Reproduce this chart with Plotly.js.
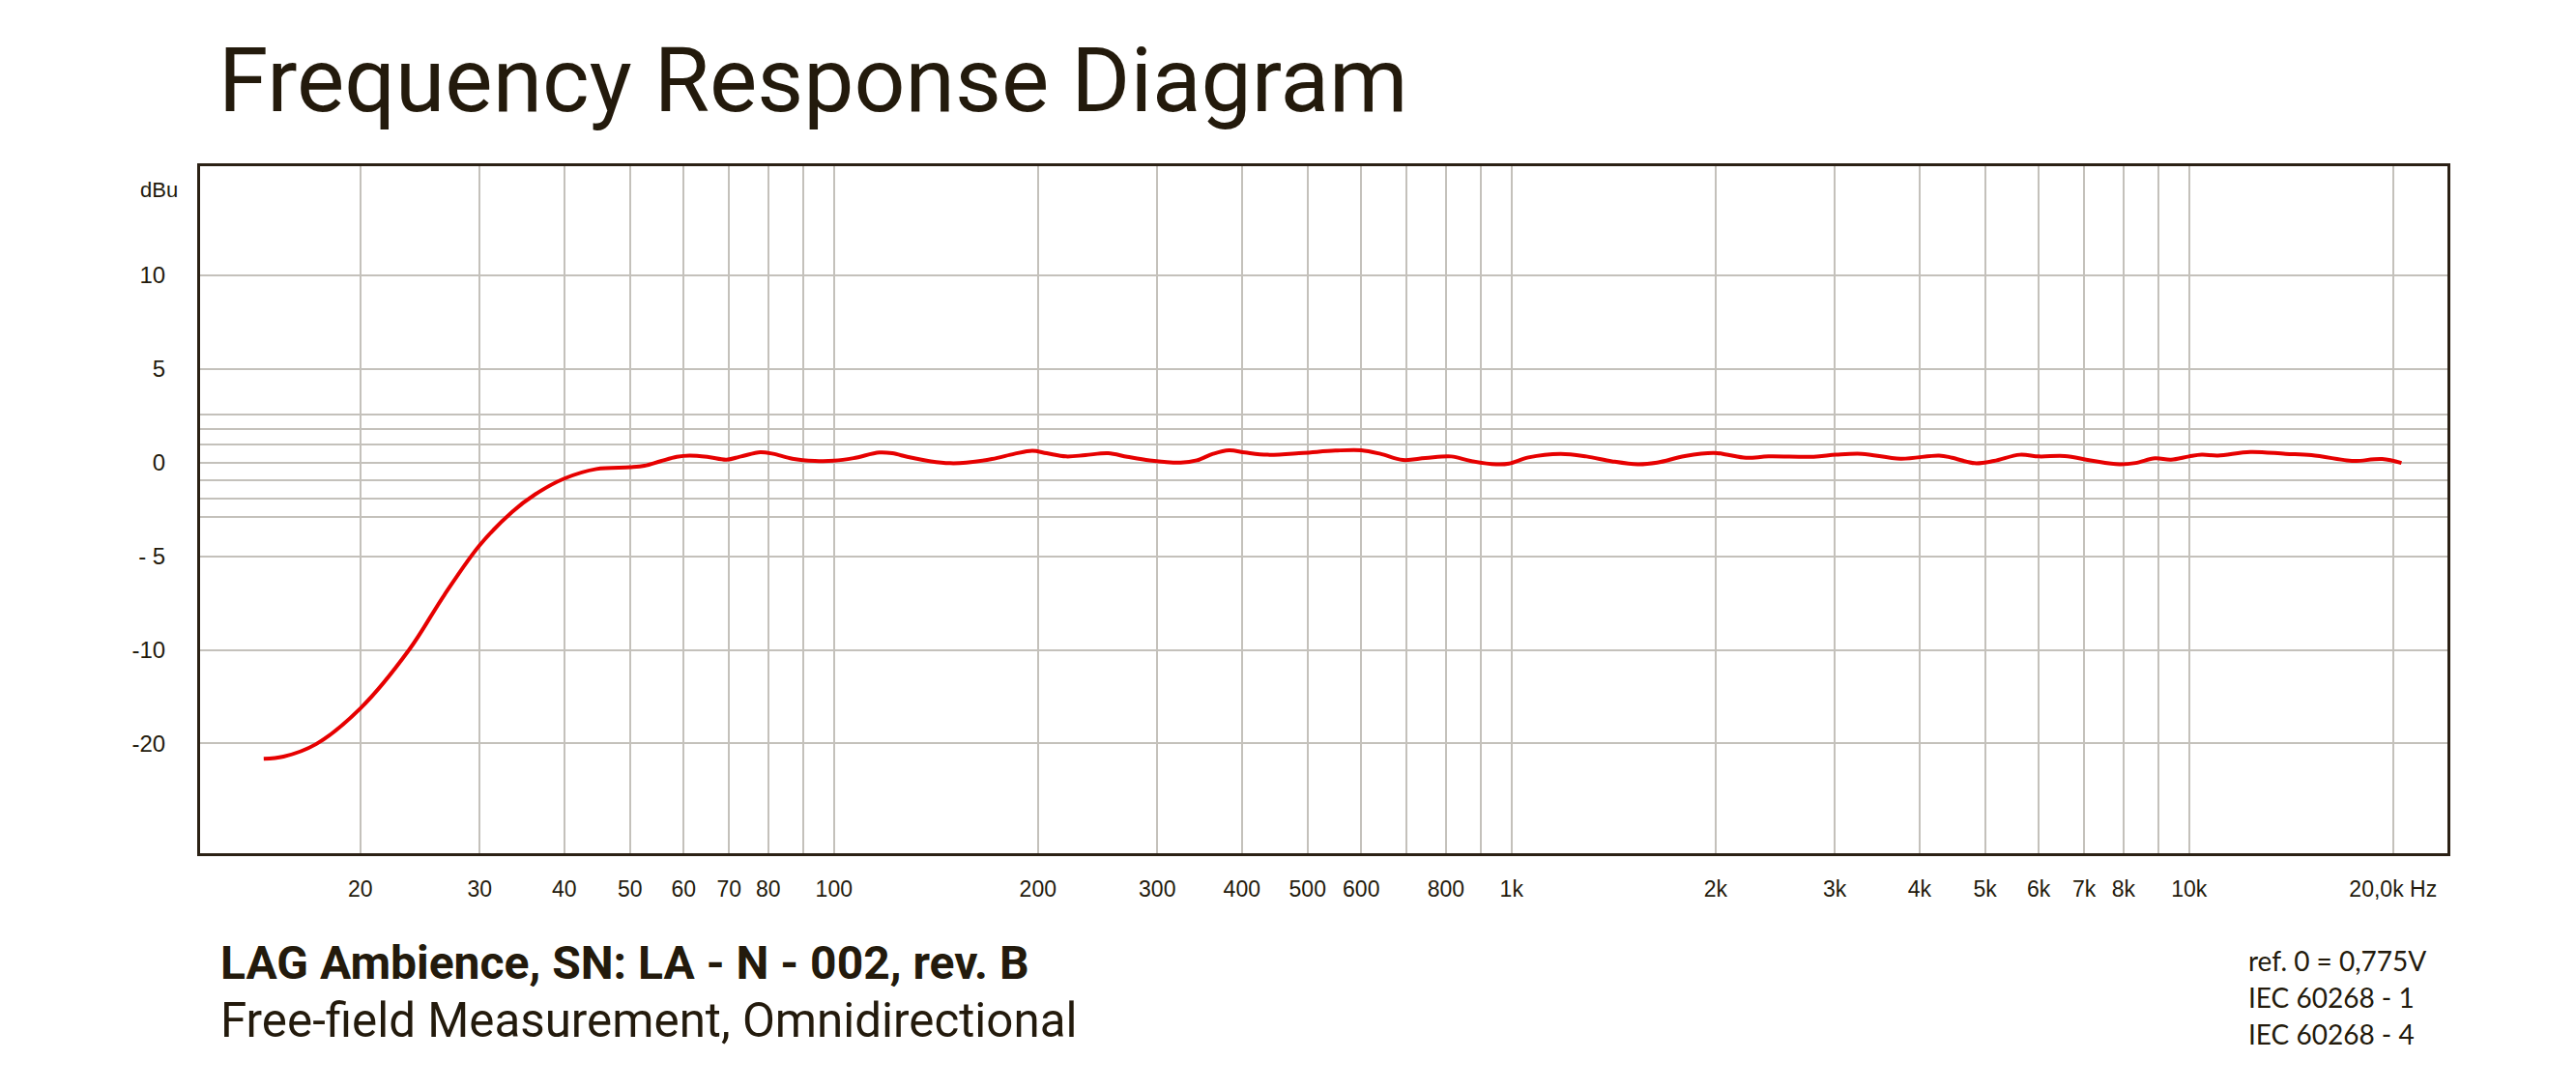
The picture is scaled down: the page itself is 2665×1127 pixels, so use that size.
<!DOCTYPE html>
<html>
<head>
<meta charset="utf-8">
<script src="https://cdn.plot.ly/plotly-3.0.1.min.js"></script>
<style>
  html, body { margin: 0; padding: 0; background: #ffffff; }
  #chart { width: 2665px; height: 1127px; }
</style>
</head>
<body>
<div id="chart"></div>
<script>
// ---- data (frequency in Hz, level in dBu) ----
const frequencyHz = [
  14.4, 15.4, 17.2, 20, 23.6, 26.6, 30, 33.5, 36.2, 40, 44.6, 50, 52.5, 55.5,
  58.6, 61.2, 65.3, 69.4, 72.9, 77.9, 81.3, 86.8, 93.7, 100, 106.9, 116.7, 121.9, 128.7,
  139, 148.4, 156.8, 171.1, 184.7, 196.2, 206, 220, 235, 253.8, 271, 292.4, 324.8, 343.2,
  362.6, 382.9, 404.4, 436.6, 492.5, 549.5, 599.8, 640.4, 691.3, 746.2, 814.6, 869.9,
  949.5, 991.8, 1059, 1181, 1290, 1407, 1536, 1640, 1802, 1988, 2078, 2218, 2395, 2791,
  3014, 3290, 3751, 4276, 4469, 4825, 5152, 5623, 6005, 6553, 7152, 7896, 8337, 8904,
  9404, 9994, 10440, 11030, 12310, 13880, 15160, 17090, 17660, 19280, 20580
];
const levelDbu = [
  -21.63, -21.4, -20.07, -16.25, -10.0, -7.07, -4.41, -2.63, -1.70, -0.85, -0.34, -0.25, -0.17, 0.08,
  0.31, 0.38, 0.30, 0.16, 0.33, 0.56, 0.47, 0.21, 0.09, 0.10, 0.24, 0.54, 0.50, 0.30,
  0.07, -0.03, 0.0, 0.19, 0.47, 0.63, 0.50, 0.33, 0.40, 0.50, 0.31, 0.12, 0.0, 0.12,
  0.47, 0.66, 0.54, 0.42, 0.52, 0.64, 0.66, 0.47, 0.14, 0.24, 0.33, 0.09,
  -0.09, -0.05, 0.28, 0.47, 0.33, 0.07, -0.09, 0.0, 0.35, 0.52, 0.43, 0.26, 0.33, 0.31,
  0.42, 0.47, 0.21, 0.38, 0.26, -0.03, 0.09, 0.42, 0.33, 0.35, 0.12, -0.09, -0.02, 0.23,
  0.16, 0.33, 0.42, 0.38, 0.57, 0.47, 0.40, 0.12, 0.09, 0.19, -0.02
];

// x axis grid / ticks
const xTickValues = [20, 30, 40, 50, 60, 70, 80, 90, 100, 200, 300, 400, 500, 600, 700, 800, 900,
  1000, 2000, 3000, 4000, 5000, 6000, 7000, 8000, 9000, 10000, 20000];
const xTickLabels = ["20", "30", "40", "50", "60", "70", "80", "", "100", "200", "300", "400", "500", "600", "", "800", "",
  "1k", "2k", "3k", "4k", "5k", "6k", "7k", "8k", "", "10k", "20,0k Hz"];

// y axis ticks (dBu) and labels
const yTickValues = [10, 5, 0, -5, -10, -20];
const yTickLabels = ["10", "5", "0", "- 5", "-10", "-20"];
// fine grid lines around 0 dBu
const yFineGrid = [2.58, 1.77, 0.95, -0.95, -1.9, -2.89];

const titleText = "Frequency Response Diagram";
const unitLabel = "dBu";
const modelLine = "LAG Ambience, SN: LA - N - 002, rev. B";
const measureLine = "Free-field Measurement, Omnidirectional";
const noteLines = ["ref. 0 = 0,775V", "IEC 60268 - 1", "IEC 60268 - 4"];

// The chart's level scale is compressed by half below -10 dBu.
function toAxis(v) { return v >= -10 ? v : -10 + (v + 10) * 0.5; }

const ink = "#231a0c";
const gridColor = "#c4c1bb";
const chartW = 2665, chartH = 1127;
const margin = { l: 207, r: 133, t: 172, b: 244 };
const plotW = chartW - margin.l - margin.r;
const plotH = chartH - margin.t - margin.b;
const px2x = px => (px - margin.l) / plotW;
const px2y = py => (chartH - margin.b - py) / plotH;

const trace = {
  x: frequencyHz,
  y: levelDbu.map(toAxis),
  type: "scatter",
  mode: "lines",
  line: { color: "#e60000", width: 4, shape: "spline", smoothing: 1.0 },
  hoverinfo: "skip"
};

const annotations = [
  { text: unitLabel, xref: "paper", yref: "paper", x: px2x(186), y: px2y(196), xanchor: "right", yanchor: "middle",
    showarrow: false, font: { family: "Liberation Sans, Arial, sans-serif", size: 22, color: ink } },
  { text: "<b>" + modelLine + "</b>", xref: "paper", yref: "paper", x: px2x(226), y: px2y(996), xanchor: "left", yanchor: "middle",
    showarrow: false, font: { family: "Roboto, sans-serif", size: 48, color: ink } },
  { text: measureLine, xref: "paper", yref: "paper", x: px2x(226), y: px2y(1056), xanchor: "left", yanchor: "middle",
    showarrow: false, font: { family: "Roboto, sans-serif", size: 49.3, color: ink } }
];
const noteY = [994, 1032, 1070];
noteLines.forEach((t, i) => annotations.push({
  text: t, xref: "paper", yref: "paper", x: px2x(2324), y: px2y(noteY[i]), xanchor: "left", yanchor: "middle",
  showarrow: false, font: { family: "Lato, sans-serif", size: 28, color: ink }
}));

const layout = {
  width: chartW, height: chartH,
  margin: margin,
  paper_bgcolor: "#ffffff", plot_bgcolor: "#ffffff",
  showlegend: false,
  title: {
    text: titleText, xref: "container", yref: "container",
    x: 226 / chartW, xanchor: "left", y: 1 - 82 / chartH, yanchor: "middle",
    font: { family: "Roboto, sans-serif", size: 93, color: ink }
  },
  xaxis: {
    type: "log",
    range: [Math.log10(11.6), Math.log10(24060)],
    tickmode: "array", tickvals: xTickValues, ticktext: xTickLabels,
    showgrid: true, gridcolor: gridColor, gridwidth: 2,
    showline: true, linecolor: "#2b2115", linewidth: 3, mirror: true,
    ticks: "", ticklabelstandoff: 14,
    tickfont: { family: "Liberation Sans, Arial, sans-serif", size: 23, color: ink },
    zeroline: false, fixedrange: true
  },
  yaxis: {
    range: [-20.86, 15.83],
    tickmode: "array", tickvals: yTickValues.map(toAxis), ticktext: yTickLabels,
    showgrid: true, gridcolor: gridColor, gridwidth: 2,
    minor: { tickmode: "array", tickvals: yFineGrid.map(toAxis), showgrid: true, gridcolor: gridColor, gridwidth: 2, ticks: "" },
    showline: true, linecolor: "#2b2115", linewidth: 3, mirror: true,
    ticks: "", ticklabelstandoff: 28,
    tickfont: { family: "Liberation Sans, Arial, sans-serif", size: 24, color: ink },
    zeroline: false, fixedrange: true
  },
  annotations: annotations
};

Plotly.newPlot("chart", [trace], layout, { staticPlot: true, displayModeBar: false });
</script>
</body>
</html>
